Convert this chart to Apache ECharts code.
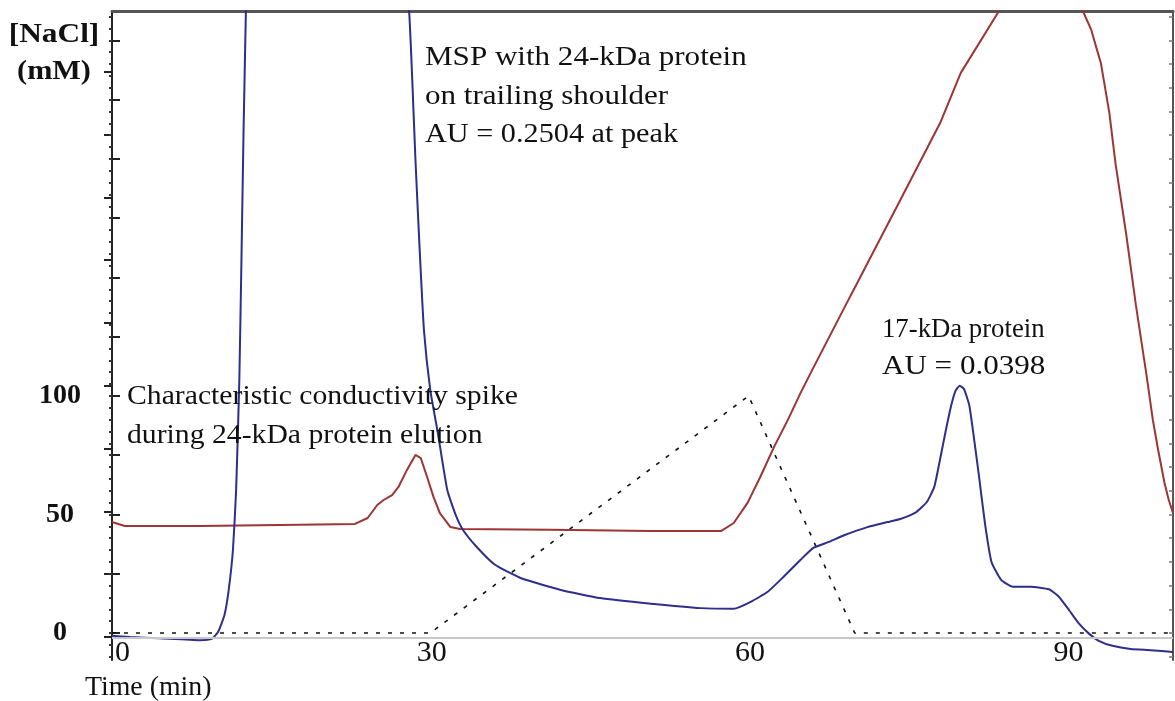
<!DOCTYPE html>
<html>
<head>
<meta charset="utf-8">
<script src="https://cdn.jsdelivr.net/npm/echarts@6/dist/echarts.min.js"></script>
<style>
html,body{margin:0;padding:0;background:#fff;}
#chart{width:1175px;height:701px;}
</style>
</head>
<body>
<div id="chart"></div>
<script>
// ---- Data (time in min) ----
const gradTime = [0, 30, 60, 70, 100];
const gradNaCl = [0, 0, 100, 0, 0];

const condTime = [0, 1.2, 8.3, 15.8, 22.9, 24.1, 25.0, 25.6, 26.4, 27.0, 27.8, 28.6, 29.1, 29.7, 30.3, 30.9, 31.9, 32.8, 41.3, 50.8, 57.4, 58.6, 59.9, 61.1, 62.4, 63.7, 64.9, 66.0, 69.6, 74.3, 78.1, 80.0, 83.6, 85.0, 87.5, 90.0, 91.5, 92.3, 92.7, 93.2, 94.0, 94.6, 95.6, 96.5, 97.5, 98.1, 98.6, 99.2, 99.6, 100];
const condVal  = [46.8, 45.1, 45.1, 45.6, 46.0, 48.5, 54.0, 56.1, 58.2, 61.6, 68.8, 75.1, 73.8, 65.8, 57.4, 50.6, 44.7, 43.9, 43.5, 43.0, 43.0, 46.4, 54.9, 65.8, 78.5, 89.9, 101.3, 111.0, 142.2, 182.7, 215.6, 236.3, 262.4, 272, 282, 276, 262.4, 254.4, 248.1, 240.5, 219.4, 197.5, 167.9, 138.4, 108.9, 89.9, 77.2, 63.3, 56.1, 50.6];

const auTime = [0, 1.7, 4.5, 8.3, 9.4, 10.0, 10.6, 11.0, 11.4, 11.7, 12.0, 12.2, 12.4, 12.6, 12.9, 13.4, 14.1, 15.0, 16.2, 18.0, 20.5, 23.0, 25.5, 27.2, 28.0, 28.3, 28.6, 29.0, 29.4, 30.0, 30.7, 31.6, 32.4, 33.1, 34.4, 36.1, 38.5, 42.3, 46.0, 50.8, 55.5, 58.6, 60.2, 61.8, 63.3, 64.9, 66.1, 67.5, 69.0, 71.2, 73.1, 74.3, 75.8, 76.8, 77.5, 78.0, 78.6, 79.1, 79.5, 79.9, 80.3, 80.8, 81.2, 81.7, 82.3, 82.9, 83.8, 84.9, 86.6, 88.3, 89.2, 90.2, 91.1, 92.1, 93.0, 94.3, 96.0, 97.9, 100];
const auVal  = [0.0002, 0.0000, -0.0002, -0.0005, -0.0003, 0.0008, 0.0035, 0.0075, 0.0139, 0.0234, 0.0409, 0.0600, 0.0807, 0.0980, 0.125, 0.170, 0.225, 0.2504, 0.242, 0.215, 0.190, 0.170, 0.140, 0.112, 0.0997, 0.0887, 0.0760, 0.0616, 0.0489, 0.0393, 0.0326, 0.0234, 0.0194, 0.0170, 0.0143, 0.0115, 0.0094, 0.0075, 0.0062, 0.0053, 0.0046, 0.0045, 0.0056, 0.0072, 0.0096, 0.0123, 0.0142, 0.0151, 0.0162, 0.0175, 0.0183, 0.0188, 0.0199, 0.0215, 0.0239, 0.0279, 0.0330, 0.0369, 0.0392, 0.0400, 0.0395, 0.0369, 0.0322, 0.0258, 0.0178, 0.0119, 0.0091, 0.0080, 0.0080, 0.0076, 0.0065, 0.0043, 0.0022, 0.0005, -0.0006, -0.0014, -0.0019, -0.0021, -0.0024];

// ---- Tick labels ----
const timeTickLabels = [0, 30, 60, 90];
const naclTickLabels = [0, 50, 100];
const naclMajorTicks = [0, 25, 50, 75, 100, 125, 150, 175, 200, 225, 250];
const naclMinorTicks = [-10, -5, 0, 5, 10, 15, 20, 25, 30, 35, 40, 45, 50, 55, 60, 65, 70, 75, 80, 85, 90, 95, 100, 105, 110, 115, 120, 125, 130, 135, 140, 145, 150, 155, 160, 165, 170, 175, 180, 185, 190, 195, 200, 205, 210, 215, 220, 225, 230, 235, 240, 245, 250, 255, 260];
const auTicks = [0, 0.01, 0.02, 0.03, 0.04, 0.05, 0.06, 0.07, 0.08, 0.09];
const rightTicks = [-10, 0, 10, 20, 30, 40, 50, 60, 70, 80, 90, 100, 110, 120, 130, 140, 150, 160, 170, 180, 190, 200, 210, 220, 230, 240, 250, 260];

const zip = (a, b) => a.map((v, i) => [v, b[i]]);

const SERIF = '"Liberation Serif", "DejaVu Serif", serif';
const NACL_MIN = -11.4, NACL_MAX = 262.4;
const AU_MIN = -0.00366, AU_MAX = 0.09968;

function txt(x, y, text, opts) {
  opts = opts || {};
  return {
    type: 'text', x: x, y: y, scaleX: opts.scaleX || 1.12, z: 100,
    style: {
      text: text,
      font: (opts.bold ? 'bold ' : '') + (opts.size || 27) + 'px ' + SERIF,
      fill: '#111',
      textAlign: opts.align || 'left',
      textVerticalAlign: 'middle'
    }
  };
}

const chart = echarts.init(document.getElementById('chart'), null, {renderer: 'canvas'});
const option = {
  animation: false,
  backgroundColor: '#ffffff',
  grid: {left: 112, right: 2, top: 11, bottom: 41, containLabel: false},
  xAxis: [
    {
      type: 'value', min: 0, max: 100, position: 'bottom', offset: -22,
      axisLine: {show: false, onZero: false}, axisTick: {show: false}, splitLine: {show: false},
      axisLabel: {customValues: timeTickLabels, fontSize: 30, fontFamily: SERIF, color: '#111', margin: 0, alignMinLabel: 'left', padding: [0, 0, 0, 3]}
    },
    {
      type: 'value', min: 0, max: 100, position: 'top',
      axisLine: {show: true, onZero: false, lineStyle: {color: '#555', width: 3}},
      axisTick: {show: false}, axisLabel: {show: false}, splitLine: {show: false}
    }
  ],
  yAxis: [
    {
      type: 'value', name: '', min: NACL_MIN, max: NACL_MAX, position: 'left',
      axisLine: {show: true, onZero: false, lineStyle: {color: '#222', width: 2}},
      axisTick: {show: true, inside: true, length: 8, customValues: naclMajorTicks, lineStyle: {color: '#222', width: 2}},
      axisLabel: {customValues: naclTickLabels, fontSize: 28, fontWeight: 'bold', fontFamily: SERIF, color: '#111', align: 'center', margin: 52},
      splitLine: {show: false}
    },
    {
      type: 'value', min: AU_MIN, max: AU_MAX, position: 'left',
      axisLine: {show: false, onZero: false},
      axisTick: {show: true, inside: false, length: 8, customValues: auTicks, lineStyle: {color: '#222', width: 2}},
      axisLabel: {show: false}, splitLine: {show: false}
    },
    {
      type: 'value', min: NACL_MIN, max: NACL_MAX, position: 'left',
      axisLine: {show: false, onZero: false},
      axisTick: {show: true, inside: false, length: 3, customValues: naclMinorTicks, lineStyle: {color: '#333', width: 2}},
      axisLabel: {show: false}, splitLine: {show: false}
    },
    {
      type: 'value', min: NACL_MIN, max: NACL_MAX, position: 'right',
      axisLine: {show: true, onZero: false, lineStyle: {color: '#555', width: 2}},
      axisTick: {show: true, inside: true, length: 4, customValues: rightTicks, lineStyle: {color: '#777', width: 1.5}},
      axisLabel: {show: false}, splitLine: {show: false}
    }
  ],
  series: [
    {
      name: 'NaCl gradient', type: 'line', xAxisIndex: 0, yAxisIndex: 0,
      data: zip(gradTime, gradNaCl), symbol: 'none',
      lineStyle: {color: '#111', width: 1.6, type: [4, 8]},
      markLine: {
        silent: true, symbol: 'none', label: {show: false},
        lineStyle: {color: '#c8c8c8', width: 2, type: 'solid'},
        data: [{yAxis: -2.1}]
      },
      z: 2
    },
    {
      name: 'Conductivity', type: 'line', xAxisIndex: 0, yAxisIndex: 0,
      data: zip(condTime, condVal), symbol: 'none', smooth: false,
      lineStyle: {color: '#9e3434', width: 2}, z: 3
    },
    {
      name: 'A280', type: 'line', xAxisIndex: 0, yAxisIndex: 1,
      data: zip(auTime, auVal), symbol: 'none', smooth: 0.15,
      lineStyle: {color: '#2e2e8c', width: 2}, z: 4
    }
  ],
  graphic: [
    txt(54, 35, '[NaCl]', {bold: true, size: 28, align: 'center', scaleX: 1.12}),
    txt(54, 72, '(mM)', {bold: true, size: 28, align: 'center', scaleX: 1.08}),
    txt(425, 58, 'MSP with 24-kDa protein', {scaleX: 1.15}),
    txt(425, 97, 'on trailing shoulder', {scaleX: 1.15}),
    txt(425, 135, 'AU = 0.2504 at peak', {scaleX: 1.12}),
    txt(127, 397, 'Characteristic conductivity spike', {scaleX: 1.1}),
    txt(127, 436, 'during 24-kDa protein elution', {scaleX: 1.1}),
    txt(882, 330, '17-kDa protein', {scaleX: 0.99}),
    txt(882, 367, 'AU = 0.0398', {scaleX: 1.15}),
    txt(85, 688, 'Time (min)', {scaleX: 1.03})
  ]
};
chart.setOption(option);
</script>
</body>
</html>
